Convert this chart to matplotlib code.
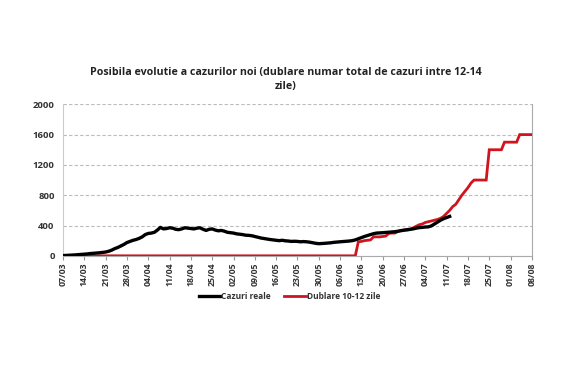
import numpy as np
import matplotlib
matplotlib.use("Agg")
import matplotlib.pyplot as plt
import matplotlib.dates as mdates

plt.rcParams['font.family'] = ['Open Sans', 'DejaVu Sans']

start_date = "2020-03-07"
end_date = "2020-08-08"

title = "Posibila evolutie a cazurilor noi (dublare numar total de cazuri intre 12-14\nzile)"
series_names = ["Cazuri reale", "Dublare 10-12 zile"]

# daily values starting 07/03
cazuri_reale = [
    3, 5, 7, 10, 12, 15, 18, 20, 25, 30,
    33, 36, 40, 45, 50, 60, 75, 95, 110, 130,
    150, 175, 190, 205, 215, 230, 250, 280, 295, 300,
    310, 340, 375, 355, 360, 370, 365, 350, 345, 355,
    370, 365, 360, 355, 365, 370, 350, 335, 350, 355,
    340, 330, 335, 325, 310, 305, 300, 290, 285, 280,
    272, 270, 265, 255, 245, 235, 228, 220, 215, 210,
    205, 200, 205, 198, 195, 190, 192, 190, 185, 188,
    185, 180, 172, 165, 160, 162, 165, 168, 172, 178,
    182, 185, 188, 192, 195, 200, 210, 225, 240, 255,
    268, 280, 292, 300, 302, 305, 308, 312, 315, 318,
    325, 332, 338, 345, 350, 355, 365, 372, 375, 380,
    382, 395, 420, 445, 470, 490, 505, 520,
]

dublare = [
    0, 0, 0, 0, 0, 0, 0, 0, 0, 0,
    0, 0, 0, 0, 0, 0, 0, 0, 0, 0,
    0, 0, 0, 0, 0, 0, 0, 0, 0, 0,
    0, 0, 0, 0, 0, 0, 0, 0, 0, 0,
    0, 0, 0, 0, 0, 0, 0, 0, 0, 0,
    0, 0, 0, 0, 0, 0, 0, 0, 0, 0,
    0, 0, 0, 0, 0, 0, 0, 0, 0, 0,
    0, 0, 0, 0, 0, 0, 0, 0, 0, 0,
    0, 0, 0, 0, 0, 0, 0, 0, 0, 0,
    0, 0, 0, 0, 0, 0, 0, 185, 190, 200,
    205, 210, 250, 250, 250, 255, 260, 295, 300, 300,
    320, 335, 340, 340, 345, 370, 390, 410, 420, 440,
    450, 460, 470, 480, 495, 520, 560, 600, 650, 680,
    740, 800, 850, 900, 960, 1000, 1000, 1000, 1000, 1000,
    1400, 1400, 1400, 1400, 1400, 1500, 1500, 1500, 1500, 1500,
    1600, 1600, 1600, 1600, 1600,
]

y_ticks = [0, 400, 800, 1200, 1600, 2000]

d0 = np.datetime64(start_date)
x_black = d0 + np.arange(len(cazuri_reale)).astype("timedelta64[D]")
x_red = d0 + np.arange(len(dublare)).astype("timedelta64[D]")
x_ticks = np.arange(np.datetime64(start_date), np.datetime64(end_date) + 1, 7)

fig = plt.figure(figsize=(5.75, 3.87), dpi=100)
ax = fig.add_axes([0.1096, 0.339, 0.8154, 0.3915])

ax.plot(x_red, dublare, color="#d0141e", lw=2.0, solid_joinstyle="miter", zorder=3, label=series_names[1])
ax.plot(x_black, cazuri_reale, color="black", lw=2.4, zorder=4, label=series_names[0])

ax.set_xlim(np.datetime64(start_date), np.datetime64(end_date))
ax.set_ylim(0, 2000)
ax.set_yticks(y_ticks)
ax.set_xticks(x_ticks)
ax.xaxis.set_major_formatter(mdates.DateFormatter("%d/%m"))
for lab in ax.get_xticklabels():
    lab.set_rotation(90)
    lab.set_fontsize(6.3)
    lab.set_fontweight("bold")
    lab.set_color("#333333")
for lab in ax.get_yticklabels():
    lab.set_fontsize(6.8)
    lab.set_fontweight("bold")
    lab.set_color("#333333")

ax.yaxis.grid(True, ls=(0, (3, 2)), color="#bbbbbb", lw=0.8)
ax.set_axisbelow(True)
ax.tick_params(axis="y", length=0, pad=6)
ax.tick_params(axis="x", length=3, color="#999999", pad=2)
ax.spines["top"].set_visible(False)
ax.spines["left"].set_color("#cccccc")
ax.spines["left"].set_linestyle((0, (1, 1)))
ax.spines["right"].set_color("#aaaaaa")
ax.spines["bottom"].set_color("#aaaaaa")

fig.text(0.497, 0.795, title, ha="center", va="center", fontsize=7.7, fontweight="bold",
         color="#222222", linespacing=1.35)

handles, labels = ax.get_legend_handles_labels()
leg = fig.legend(handles[::-1], labels[::-1], loc="center", bbox_to_anchor=(0.503, 0.235), ncol=2,
                 frameon=False, handlelength=2.6, handletextpad=0.1, columnspacing=1.6,
                 prop={"size": 6, "weight": "bold"})
for t in leg.get_texts():
    t.set_color("#333333")

fig.savefig("out.png", dpi=100, facecolor="white")
